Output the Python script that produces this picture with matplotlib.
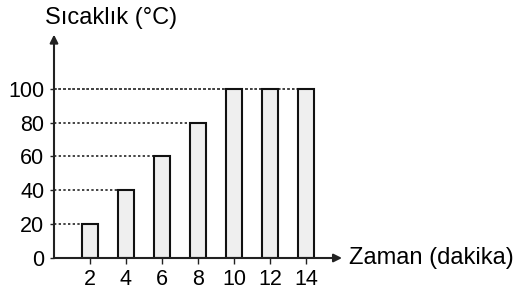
import matplotlib
matplotlib.use("Agg")
import matplotlib.pyplot as plt

# data
zaman = [2, 4, 6, 8, 10, 12, 14]
sicaklik = [20, 40, 60, 80, 100, 100, 100]
y_ticks = [0, 20, 40, 60, 80, 100]

plt.rcParams['font.family'] = ['Liberation Sans', 'DejaVu Sans']

fig = plt.figure(figsize=(5.21, 2.94), dpi=100)
ax = fig.add_axes([54/521, 36/294, 288/521, 220/294])
ax.set_xlim(0, 16)
ax.set_ylim(0, 130)

# dotted guide lines, from the axis to the left edge of each bar
bw = 0.9
for xv, yv in zip(zaman, sicaklik):
    ax.plot([0, xv - bw/2], [yv, yv], color='#444444', lw=1.4,
            linestyle=(0, (1.2, 1.2)), zorder=1)
# 100 line continues over the top of the last bars
ax.plot([0, zaman[-1] + bw/2], [100, 100], color='#444444', lw=1.4,
        linestyle=(0, (1.2, 1.2)), zorder=1)

ax.bar(zaman, sicaklik, width=bw, facecolor='#efefef', edgecolor='#111111',
       linewidth=1.5, zorder=3)

for s in ax.spines.values():
    s.set_visible(False)

# axes as arrows
ax.annotate('', xy=(0, 132), xytext=(0, 0), annotation_clip=False,
            arrowprops=dict(arrowstyle='-|>', color='#222222', lw=1.5,
                            mutation_scale=12, shrinkA=0, shrinkB=0))
ax.annotate('', xy=(16, 0), xytext=(0, 0), annotation_clip=False,
            arrowprops=dict(arrowstyle='-|>', color='#222222', lw=1.5,
                            mutation_scale=12, shrinkA=0, shrinkB=0))

ax.set_xticks(zaman)
ax.set_xticklabels([str(v) for v in zaman])
ax.set_yticks(y_ticks)
ax.set_yticklabels([str(v) for v in y_ticks])
ax.tick_params(axis='x', length=4, width=1, pad=4, labelsize=15.5, color='#222222')
ax.tick_params(axis='y', length=3, width=1, pad=4, labelsize=15.5, color='#222222')

fig.text(45/521, 1 - 18/294, 'Sıcaklık (°C)', fontsize=17, va='center', ha='left')
fig.text(349/521, 1 - 258/294, 'Zaman (dakika)', fontsize=17, va='center', ha='left')

fig.savefig('out.png', dpi=100)
